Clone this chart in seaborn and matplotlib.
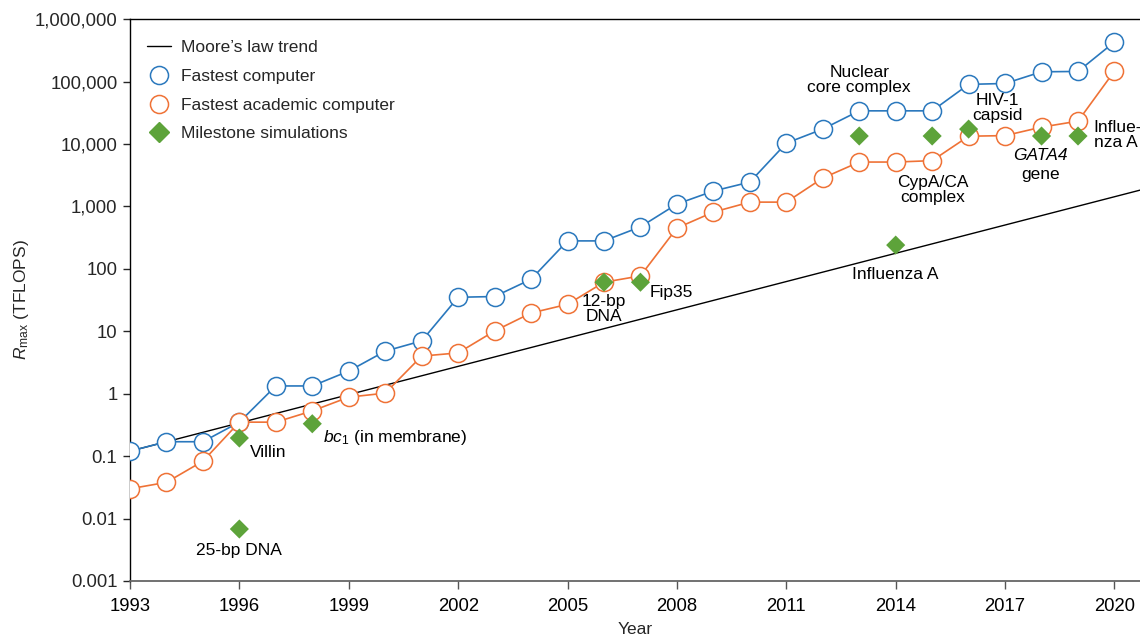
import numpy as np
import pandas as pd
import matplotlib
matplotlib.use("Agg")
import matplotlib.pyplot as plt
import seaborn as sns
from matplotlib.lines import Line2D
from matplotlib.ticker import FixedLocator, NullLocator

years = list(range(1993, 2021))
fastest = [0.12, 0.17, 0.17, 0.35, 1.33, 1.33, 2.3, 4.8, 7.0, 35, 36, 68, 280, 280,
           470, 1090, 1760, 2450, 10300, 17300, 33900, 33900, 33900, 90000, 93000,
           143000, 145000, 430000]
academic = [0.03, 0.038, 0.083, 0.35, 0.35, 0.53, 0.88, 1.02, 4.0, 4.5, 10.1, 19.6,
            27, 61, 77, 450, 810, 1170, 1170, 2840, 5130, 5130, 5400, 13300, 13600,
            18600, 23200, 147000]

milestone_years = [1996, 1996, 1998, 2006, 2007, 2013, 2014, 2015, 2016, 2018, 2019]
milestone_vals = [0.195, 0.0068, 0.33, 61, 61, 13400, 240, 13400, 17300, 13400, 13400]

moore_years = [1993, 2020.7]
moore_vals = [0.12, 1820]

ytick_vals = [0.001, 0.01, 0.1, 1, 10, 100, 1000, 10000, 100000, 1000000]
ytick_labels = ["0.001", "0.01", "0.1", "1", "10", "100", "1,000", "10,000",
                "100,000", "1,000,000"]
xtick_vals = list(range(1993, 2021, 3))

BLUE = "#2a78bd"
ORANGE = "#ef7236"
GREEN = "#5da33a"

sns.set_style("ticks")
plt.rcParams["font.family"] = ["Liberation Sans", "DejaVu Sans"]
plt.rcParams["mathtext.fontset"] = "custom"
plt.rcParams["mathtext.rm"] = "Liberation Sans"
plt.rcParams["mathtext.it"] = "Liberation Sans:italic"
plt.rcParams["font.size"] = 12.5

df = pd.DataFrame({"year": years, "fastest": fastest, "academic": academic})
ms = pd.DataFrame({"year": milestone_years, "val": milestone_vals})
moore = pd.DataFrame({"year": moore_years, "val": moore_vals})

fig = plt.figure(figsize=(11.4, 6.36), dpi=100)
ax = fig.add_axes([0.114, 0.0865, 0.886, 0.8835])

sns.lineplot(data=moore, x="year", y="val", ax=ax, color="black", linewidth=1.0, zorder=2)
sns.lineplot(data=df, x="year", y="fastest", ax=ax, color=BLUE, linewidth=1.2,
             marker="o", markersize=13, markerfacecolor="white",
             markeredgecolor=BLUE, markeredgewidth=1.1, zorder=3)
sns.lineplot(data=df, x="year", y="academic", ax=ax, color=ORANGE, linewidth=1.2,
             marker="o", markersize=13, markerfacecolor="white",
             markeredgecolor=ORANGE, markeredgewidth=1.1, zorder=3)
sns.scatterplot(data=ms, x="year", y="val", ax=ax, marker="D", s=95, color=GREEN,
                edgecolor="none", linewidth=0, zorder=4)

ax.set_yscale("log")
ax.set_ylim(0.001, 1000000)
ax.set_xlim(1993, 2020.7)
ax.yaxis.set_major_locator(FixedLocator(ytick_vals))
ax.yaxis.set_minor_locator(NullLocator())
ax.set_yticks(ytick_vals)
ax.set_yticklabels(ytick_labels)
ax.set_xticks(xtick_vals)
ax.set_xticklabels([str(x) for x in xtick_vals])
ax.tick_params(axis="y", labelsize=13.3, length=5, width=1, pad=4)
ax.tick_params(axis="x", labelsize=13.3, length=6, width=1, pad=6,
               colors="#555555", labelcolor="black")
for s in ["left", "top"]:
    ax.spines[s].set_color("black")
    ax.spines[s].set_linewidth(1.0)
ax.spines["bottom"].set_color("#666666")
ax.spines["bottom"].set_linewidth(1.3)
ax.spines["right"].set_visible(False)

ax.set_xlabel("Year", fontsize=12.5, labelpad=5)
ax.set_ylabel(r"$R_{\rm max}$ (TFLOPS)", fontsize=12.5, labelpad=3)

txt = dict(fontsize=12.5, color="black")
ax.text(1996.29, 0.116, "Villin", ha="left", va="center", **txt)
ax.text(1996.0, 0.0031, "25-bp DNA", ha="center", va="center", **txt)
ax.text(1998.29, 0.2, r"$bc_1$ (in membrane)", ha="left", va="center", **txt)
ax.text(2006.0, 22.7, "12-bp\nDNA", ha="center", va="center", linespacing=0.95, **txt)
ax.text(2007.25, 41, "Fip35", ha="left", va="center", **txt)
ax.text(2014.0, 82, "Influenza A", ha="center", va="center", **txt)
ax.text(2013.0, 105000, "Nuclear\ncore complex", ha="center", va="center", linespacing=0.95, **txt)
ax.text(2016.79, 37600, "HIV-1\ncapsid", ha="center", va="center", linespacing=0.95, **txt)
ax.text(2015.01, 1825, "CypA/CA\ncomplex", ha="center", va="center", linespacing=0.95, **txt)
ax.text(2017.97, 6500, "GATA4", ha="center", va="center", style="italic", **txt)
ax.text(2017.97, 3300, "gene", ha="center", va="center", **txt)
ax.text(2019.43, 13870, "Influe-\nnza A", ha="left", va="center", linespacing=0.95, **txt)

handles = [
    Line2D([], [], color="black", linewidth=1.0),
    Line2D([], [], linestyle="none", marker="o", markersize=13, markerfacecolor="white",
           markeredgecolor=BLUE, markeredgewidth=1.1),
    Line2D([], [], linestyle="none", marker="o", markersize=13, markerfacecolor="white",
           markeredgecolor=ORANGE, markeredgewidth=1.1),
    Line2D([], [], linestyle="none", marker="D", markersize=9.7, color=GREEN),
]
labels = ["Moore\u2019s law trend", "Fastest computer", "Fastest academic computer",
          "Milestone simulations"]
ax.legend(handles, labels, loc="upper left", bbox_to_anchor=(0.01, 0.975), frameon=False,
          fontsize=12.5, handlelength=1.4, handletextpad=0.55, labelspacing=0.78,
          borderaxespad=0)

fig.savefig("out.png", dpi=100)
